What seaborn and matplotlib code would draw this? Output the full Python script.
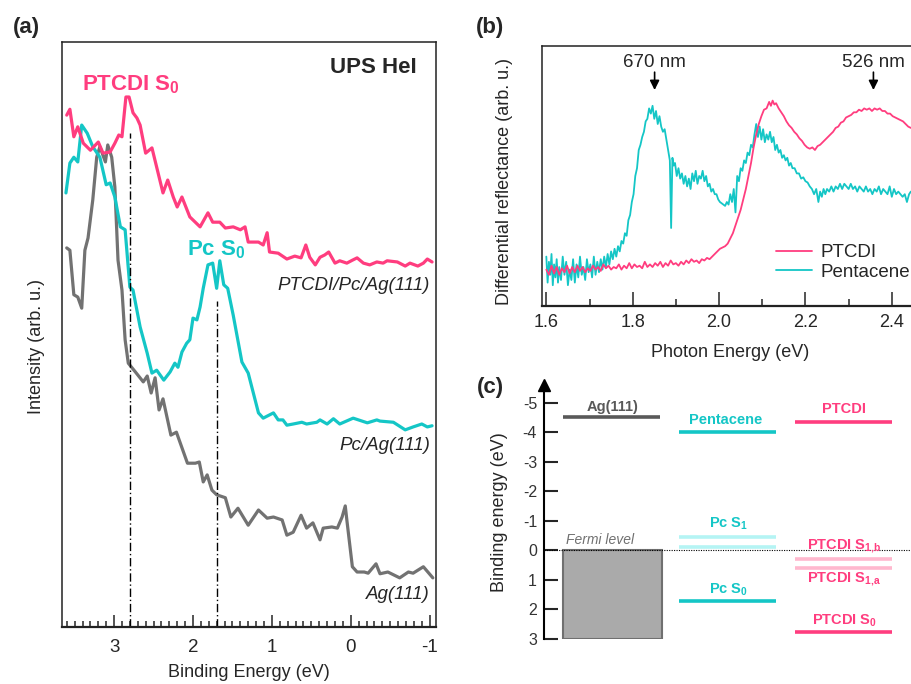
import numpy as np
import pandas as pd
import matplotlib
matplotlib.use('Agg')
import matplotlib.pyplot as plt
import seaborn as sns
from matplotlib.ticker import MultipleLocator, NullLocator, FormatStrFormatter
from matplotlib.patches import Rectangle

# ---- (a) UPS HeI spectra: binding energy (eV) / intensity (arb. u.)
be_ptcdi = [3.60, 3.56, 3.51, 3.46, 3.39, 3.30, 3.20, 3.14, 3.05, 2.99, 2.94, 2.90, 2.85, 2.81,
            2.76, 2.71, 2.67, 2.60, 2.52, 2.46, 2.38, 2.32, 2.25, 2.20, 2.14, 2.04, 1.91, 1.81,
            1.75, 1.66, 1.59, 1.49, 1.40, 1.34, 1.30, 1.17, 1.11, 1.06, 1.03, 0.92, 0.81, 0.71,
            0.63, 0.57, 0.52, 0.45, 0.39, 0.33, 0.28, 0.20, 0.14, 0.05, -0.02, -0.08, -0.16,
            -0.24, -0.33, -0.41, -0.46, -0.59, -0.69, -0.75, -0.85, -0.92, -0.97, -1.03]
int_ptcdi = [8.75, 8.85, 8.38, 8.55, 8.27, 8.15, 8.29, 8.10, 8.12, 8.27, 8.41, 8.38, 9.06, 9.06,
             8.79, 8.70, 8.58, 8.10, 8.19, 7.86, 7.42, 7.64, 7.35, 7.18, 7.35, 7.01, 6.84, 7.08,
             6.92, 6.92, 6.82, 6.84, 6.79, 6.84, 6.58, 6.58, 6.53, 6.74, 6.41, 6.39, 6.29, 6.34,
             6.31, 6.53, 6.32, 6.19, 6.32, 6.36, 6.41, 6.22, 6.26, 6.22, 6.27, 6.31, 6.22,
             6.19, 6.24, 6.22, 6.26, 6.24, 6.17, 6.22, 6.17, 6.22, 6.29, 6.24]

be_pc = [3.61, 3.56, 3.51, 3.46, 3.41, 3.34, 3.27, 3.18, 3.10, 3.05, 2.99, 2.92, 2.86, 2.80,
         2.76, 2.67, 2.58, 2.52, 2.46, 2.37, 2.29, 2.23, 2.19, 2.14, 2.08, 2.04, 2.00, 1.95,
         1.91, 1.87, 1.81, 1.75, 1.70, 1.66, 1.61, 1.56, 1.49, 1.38, 1.30, 1.17, 1.11, 0.98,
         0.92, 0.86, 0.81, 0.73, 0.62, 0.56, 0.43, 0.39, 0.30, 0.22, 0.14, -0.03, -0.21,
         -0.33, -0.37, -0.54, -0.69, -0.79, -0.90, -0.97, -1.03]
int_pc = [7.42, 7.93, 8.03, 7.95, 8.58, 8.44, 8.21, 8.03, 7.56, 7.59, 7.35, 6.84, 6.79, 5.81,
          5.76, 5.13, 4.68, 4.34, 4.39, 4.22, 4.36, 4.51, 4.44, 4.70, 4.85, 4.91, 5.28, 5.25,
          5.47, 5.79, 6.19, 6.22, 5.79, 6.26, 5.85, 5.79, 5.33, 4.53, 4.34, 3.66, 3.57, 3.66,
          3.54, 3.54, 3.45, 3.47, 3.50, 3.47, 3.50, 3.54, 3.47, 3.56, 3.47, 3.57, 3.49,
          3.54, 3.52, 3.50, 3.37, 3.42, 3.47, 3.42, 3.44]

be_ag = [3.60, 3.56, 3.51, 3.46, 3.41, 3.37, 3.33, 3.27, 3.22, 3.18, 3.11, 3.08, 3.03, 2.99,
         2.95, 2.90, 2.86, 2.82, 2.73, 2.63, 2.58, 2.53, 2.48, 2.43, 2.38, 2.28, 2.21, 2.07,
         1.97, 1.92, 1.87, 1.82, 1.76, 1.70, 1.59, 1.52, 1.43, 1.30, 1.17, 1.06, 0.98, 0.87,
         0.81, 0.73, 0.63, 0.56, 0.48, 0.39, 0.35, 0.24, 0.17, 0.11, 0.07, 0.05, -0.02,
         -0.08, -0.17, -0.22, -0.32, -0.37, -0.47, -0.62, -0.73, -0.79, -0.92, -1.04]
int_ag = [6.48, 6.44, 5.68, 5.64, 5.45, 6.44, 6.65, 7.30, 8.03, 8.21, 7.95, 8.24, 8.03, 7.52,
          6.27, 5.76, 4.91, 4.51, 4.36, 4.19, 4.29, 4.00, 4.26, 3.71, 3.90, 3.28, 3.33, 2.80,
          2.80, 2.82, 2.48, 2.60, 2.34, 2.26, 2.21, 1.88, 2.03, 1.74, 2.00, 1.86, 1.88, 1.83,
          1.57, 1.62, 1.91, 1.69, 1.78, 1.49, 1.69, 1.71, 1.69, 1.88, 2.07, 1.83, 1.03,
          0.94, 0.94, 0.92, 1.08, 0.91, 0.94, 0.84, 0.94, 0.92, 1.03, 0.84]

peak_be = [2.8, 1.7]          # PTCDI S0, Pc S0
peak_top = [8.44, 5.57]

# ---- (b) differential reflectance: (photon energy eV, DR arb. u.)
pentacene_dr = [
    (1.600, 1.9), (1.603, 0.9), (1.606, 1.7), (1.609, 1.2), (1.612, 2.0), (1.615, 0.8),
    (1.618, 1.6), (1.621, 1.1), (1.624, 1.8), (1.627, 0.9), (1.630, 1.5), (1.634, 1.0),
    (1.638, 1.9), (1.642, 1.2), (1.646, 1.7), (1.650, 0.8), (1.654, 1.4), (1.658, 1.0),
    (1.662, 1.8), (1.666, 0.9), (1.670, 1.6), (1.674, 1.1), (1.678, 1.9), (1.682, 1.2),
    (1.686, 1.5), (1.690, 1.0), (1.694, 1.8), (1.698, 1.3), (1.702, 1.6), (1.706, 1.1),
    (1.710, 1.9), (1.714, 1.2), (1.718, 1.7), (1.722, 1.3), (1.726, 1.8), (1.730, 1.4),
    (1.734, 1.9), (1.738, 1.5), (1.742, 2.0), (1.746, 1.6), (1.750, 2.1), (1.754, 1.8),
    (1.758, 2.2), (1.762, 1.9), (1.766, 2.3), (1.770, 2.1), (1.774, 2.5), (1.778, 2.4),
    (1.782, 2.8), (1.786, 2.7), (1.790, 3.3), (1.794, 3.5), (1.798, 4.0), (1.802, 4.3),
    (1.806, 5.0), (1.810, 5.3), (1.814, 6.0), (1.818, 6.2), (1.822, 6.5), (1.826, 6.7),
    (1.830, 7.1), (1.834, 7.2), (1.838, 7.6), (1.842, 7.4), (1.846, 7.7), (1.850, 7.2),
    (1.854, 7.5), (1.858, 7.0), (1.862, 7.3), (1.866, 6.9), (1.870, 6.7), (1.874, 6.8),
    (1.878, 6.4), (1.882, 6.0), (1.886, 5.6), (1.889, 3.0), (1.892, 5.7), (1.895, 5.4),
    (1.898, 5.5), (1.902, 5.0), (1.906, 5.3), (1.910, 4.9), (1.914, 5.1), (1.918, 4.7),
    (1.922, 5.0), (1.926, 4.6), (1.930, 4.9), (1.934, 4.5), (1.938, 5.1), (1.942, 4.8),
    (1.946, 5.2), (1.950, 4.7), (1.954, 5.0), (1.958, 4.9), (1.962, 5.2), (1.966, 4.8),
    (1.970, 5.0), (1.974, 4.6), (1.978, 4.7), (1.982, 4.4), (1.986, 4.5), (1.990, 4.3),
    (1.994, 4.3), (1.998, 4.1), (2.002, 4.0), (2.006, 3.95), (2.010, 3.9), (2.014, 3.85),
    (2.018, 4.0), (2.022, 3.9), (2.026, 4.3), (2.030, 4.0), (2.034, 4.5), (2.038, 3.6),
    (2.042, 5.0), (2.046, 4.8), (2.050, 5.3), (2.054, 5.2), (2.058, 5.6), (2.062, 5.5),
    (2.066, 5.9), (2.070, 5.8), (2.074, 6.2), (2.078, 6.1), (2.082, 6.6), (2.086, 7.0),
    (2.090, 6.5), (2.094, 6.9), (2.098, 6.4), (2.102, 6.8), (2.106, 6.3), (2.110, 6.6),
    (2.114, 6.4), (2.118, 6.7), (2.122, 6.3), (2.126, 6.5), (2.130, 6.0), (2.134, 6.2),
    (2.138, 5.9), (2.142, 6.0), (2.146, 5.7), (2.150, 5.8), (2.154, 5.6), (2.158, 5.7),
    (2.162, 5.4), (2.166, 5.5), (2.170, 5.3), (2.175, 5.3), (2.180, 5.1), (2.185, 5.1),
    (2.190, 4.9), (2.195, 4.95), (2.200, 4.8), (2.205, 4.75), (2.210, 4.6), (2.215, 4.5),
    (2.220, 4.3), (2.225, 4.5), (2.230, 4.0), (2.234, 4.4), (2.238, 4.2), (2.242, 4.5),
    (2.246, 4.3), (2.250, 4.5), (2.255, 4.4), (2.260, 4.6), (2.265, 4.4), (2.270, 4.6),
    (2.275, 4.5), (2.280, 4.7), (2.285, 4.5), (2.290, 4.7), (2.295, 4.6), (2.300, 4.5),
    (2.305, 4.7), (2.310, 4.5), (2.315, 4.6), (2.320, 4.4), (2.325, 4.6), (2.330, 4.5),
    (2.335, 4.4), (2.340, 4.6), (2.345, 4.4), (2.350, 4.5), (2.355, 4.3), (2.360, 4.5),
    (2.365, 4.4), (2.370, 4.6), (2.375, 4.3), (2.380, 4.5), (2.385, 4.4), (2.390, 4.3),
    (2.395, 4.6), (2.400, 4.2), (2.405, 4.5), (2.410, 4.3), (2.415, 4.4), (2.420, 4.3),
    (2.425, 4.2), (2.430, 4.3), (2.435, 4.0), (2.440, 4.3), (2.444, 4.4)]

ptcdi_dr = [
    (1.600, 1.40), (1.606, 1.20), (1.612, 1.55), (1.618, 1.25), (1.624, 1.50), (1.630, 1.20),
    (1.636, 1.45), (1.642, 1.30), (1.648, 1.55), (1.654, 1.25), (1.660, 1.50), (1.666, 1.30),
    (1.672, 1.55), (1.678, 1.35), (1.684, 1.50), (1.690, 1.30), (1.696, 1.45), (1.702, 1.35),
    (1.708, 1.55), (1.714, 1.40), (1.720, 1.50), (1.726, 1.35), (1.732, 1.60), (1.738, 1.45),
    (1.744, 1.55), (1.750, 1.40), (1.756, 1.50), (1.762, 1.45), (1.768, 1.60), (1.774, 1.40),
    (1.780, 1.55), (1.786, 1.45), (1.792, 1.65), (1.798, 1.45), (1.804, 1.60), (1.810, 1.50),
    (1.816, 1.55), (1.822, 1.45), (1.828, 1.70), (1.834, 1.50), (1.840, 1.60), (1.846, 1.50),
    (1.852, 1.65), (1.858, 1.55), (1.864, 1.70), (1.870, 1.50), (1.876, 1.65), (1.882, 1.55),
    (1.888, 1.75), (1.894, 1.60), (1.900, 1.65), (1.906, 1.55), (1.912, 1.70), (1.918, 1.60),
    (1.924, 1.75), (1.930, 1.65), (1.936, 1.80), (1.942, 1.70), (1.948, 1.75), (1.954, 1.65),
    (1.960, 1.80), (1.966, 1.75), (1.972, 1.85), (1.978, 1.80), (1.984, 1.90), (1.990, 2.00),
    (1.996, 2.10), (2.002, 2.20), (2.008, 2.25), (2.014, 2.30), (2.020, 2.40), (2.026, 2.60),
    (2.032, 2.80), (2.038, 3.10), (2.044, 3.40), (2.050, 3.70), (2.056, 4.10), (2.062, 4.50),
    (2.068, 5.00), (2.074, 5.50), (2.080, 6.10), (2.086, 6.60), (2.092, 7.00), (2.098, 7.30),
    (2.104, 7.55), (2.110, 7.60), (2.116, 7.85), (2.120, 7.70), (2.124, 7.90), (2.128, 7.75),
    (2.132, 7.80), (2.138, 7.60), (2.144, 7.45), (2.150, 7.30), (2.156, 7.10), (2.162, 6.95),
    (2.168, 6.85), (2.174, 6.70), (2.180, 6.60), (2.186, 6.45), (2.192, 6.35), (2.198, 6.20),
    (2.204, 6.10), (2.210, 6.05), (2.216, 6.10), (2.222, 6.00), (2.228, 6.15), (2.234, 6.20),
    (2.240, 6.30), (2.246, 6.40), (2.252, 6.50), (2.258, 6.60), (2.264, 6.70), (2.270, 6.85),
    (2.276, 6.90), (2.282, 7.05), (2.288, 7.10), (2.294, 7.25), (2.300, 7.30), (2.306, 7.35),
    (2.312, 7.45), (2.318, 7.45), (2.324, 7.55), (2.330, 7.50), (2.336, 7.60), (2.342, 7.55),
    (2.348, 7.60), (2.354, 7.50), (2.360, 7.60), (2.366, 7.55), (2.372, 7.60), (2.378, 7.50),
    (2.384, 7.50), (2.390, 7.40), (2.396, 7.40), (2.402, 7.30), (2.408, 7.25), (2.414, 7.20),
    (2.420, 7.15), (2.426, 7.10), (2.432, 7.00), (2.438, 6.90), (2.444, 6.85)]

arrow_e = [1240 / 670, 1240 / 526]
arrow_labels = ['670 nm', '526 nm']

# ---- (c) energy level diagram
columns = ['Ag(111)', 'Pentacene', 'PTCDI']
level_col = [0, 1, 2, 1, 1, 1, 2, 2, 2]
level_energy = [-4.5, -4.0, -4.35, -0.45, -0.1, 1.73, 0.3, 0.6, 2.75]
level_kind = ['metal', 'pc', 'ptcdi', 'pc_s1', 'pc_s1', 'pc', 'ptcdi_s1', 'ptcdi_s1', 'ptcdi']
state_labels = ['Pc S$_\\mathregular{1}$', 'Pc S$_\\mathregular{0}$',
                'PTCDI S$_\\mathregular{1{,}b}$', 'PTCDI S$_\\mathregular{1{,}a}$',
                'PTCDI S$_\\mathregular{0}$']
state_col = [1, 1, 2, 2, 2]
state_y = [-0.92, 1.32, -0.14, 0.98, 2.37]

pink = '#FF3D7F'
cyan = '#14C6C6'
gray = '#727272'
kind_color = {'metal': '#595959', 'pc': cyan, 'ptcdi': pink,
              'pc_s1': '#B5F4F4', 'ptcdi_s1': '#FFB8CE'}

sns.set_style('ticks')
plt.rcParams['font.family'] = ['Liberation Sans', 'DejaVu Sans']
plt.rcParams['mathtext.fontset'] = 'custom'
plt.rcParams['mathtext.rm'] = 'Liberation Sans'
plt.rcParams['axes.unicode_minus'] = False

fig = plt.figure(figsize=(9.11, 6.84), dpi=100)
W, H = 911, 684


def px_axes(l, t, r, b):
    return fig.add_axes([l / W, 1 - b / H, (r - l) / W, (b - t) / H])


# ================= (a)
ax = px_axes(62, 42, 436, 627)
df_a = pd.concat([
    pd.DataFrame({'BE': be_ag, 'I': int_ag, 'sample': 'Ag(111)'}),
    pd.DataFrame({'BE': be_pc, 'I': int_pc, 'sample': 'Pc/Ag(111)'}),
    pd.DataFrame({'BE': be_ptcdi, 'I': int_ptcdi, 'sample': 'PTCDI/Pc/Ag(111)'}),
])
sns.lineplot(data=df_a, x='BE', y='I', hue='sample',
             palette={'Ag(111)': gray, 'Pc/Ag(111)': cyan, 'PTCDI/Pc/Ag(111)': pink},
             estimator=None, sort=False, lw=2.3, legend=False, ax=ax)
ax.vlines(peak_be, 0, peak_top, colors='black', linestyles=(0, (6, 2, 1, 2)), lw=1.0)
ax.set_xlim(3.66, -1.08)
ax.set_ylim(0, 10)
ax.xaxis.set_major_locator(MultipleLocator(1))
ax.xaxis.set_minor_locator(MultipleLocator(0.1))
ax.yaxis.set_major_locator(NullLocator())
ax.tick_params(axis='x', which='major', direction='in', length=9, width=1.1, labelsize=13.5, pad=9)
ax.tick_params(axis='x', which='minor', direction='in', length=4.5, width=1.1)
for s in ax.spines.values():
    s.set_linewidth(1.1)
    s.set_color('#222222')
ax.spines['bottom'].set_linewidth(1.6)
ax.set_xlabel('Binding Energy (eV)', fontsize=13)
ax.set_ylabel('Intensity (arb. u.)', fontsize=13)
ax.xaxis.set_label_coords(0.5, -0.064)
ax.yaxis.set_label_coords(-0.045, 0.48)
ax.text(0.947, 0.957, 'UPS HeI', transform=ax.transAxes, ha='right', va='center',
        fontsize=16, fontweight='bold')
ax.text(2.78, 9.27, 'PTCDI S$_\\mathregular{0}$', ha='center', va='center',
        fontsize=16, fontweight='bold', color=pink)
ax.text(1.70, 6.45, 'Pc S$_\\mathregular{0}$', ha='center', va='center',
        fontsize=16, fontweight='bold', color=cyan)
for lab, yv in [('PTCDI/Pc/Ag(111)', 5.83), ('Pc/Ag(111)', 3.11), ('Ag(111)', 0.55)]:
    ax.text(0.984, yv, lab, transform=ax.get_yaxis_transform(), ha='right', va='center',
            fontsize=13.5, style='italic')
fig.text(13 / W, 1 - 28 / H, '(a)', fontsize=16, fontweight='bold', va='center')

# ================= (b)
bx = px_axes(542, 46, 935, 306)
df_pc = pd.DataFrame(pentacene_dr, columns=['E', 'DR'])
df_pt = pd.DataFrame(ptcdi_dr, columns=['E', 'DR'])
sns.lineplot(data=df_pc, x='E', y='DR', color=cyan, lw=1.3, label='Pentacene', ax=bx)
sns.lineplot(data=df_pt, x='E', y='DR', color=pink, lw=1.3, label='PTCDI', ax=bx)
bx.set_xlim(1.59, 2.5)
bx.set_ylim(0, 10)
bx.xaxis.set_major_locator(MultipleLocator(0.2))
bx.xaxis.set_minor_locator(MultipleLocator(0.1))
bx.xaxis.set_major_formatter(FormatStrFormatter('%.1f'))
bx.yaxis.set_major_locator(NullLocator())
bx.tick_params(axis='x', which='major', direction='in', length=10, width=1.1, labelsize=13, pad=6)
bx.tick_params(axis='x', which='minor', direction='in', length=5, width=1.1)
for s in bx.spines.values():
    s.set_linewidth(1.1)
    s.set_color('#222222')
bx.spines['bottom'].set_linewidth(1.6)
bx.set_xlabel('Photon Energy (eV)', fontsize=13)
bx.set_ylabel('Differential reflectance (arb. u.)', fontsize=13)
bx.xaxis.set_label_coords(0.478, -0.145)
bx.yaxis.set_label_coords(-0.074, 0.48)
for e, lab in zip(arrow_e, arrow_labels):
    bx.annotate('', xy=(e, 8.2), xytext=(e, 9.1),
                arrowprops=dict(arrowstyle='-|>', color='black', lw=1.2, mutation_scale=14))
    bx.text(e, 9.35, lab, ha='center', va='center', fontsize=13.5)
h, l = bx.get_legend_handles_labels()
bx.legend([h[1], h[0]], [l[1], l[0]], loc='lower left', bbox_to_anchor=(776 / W, 1 - 281 / H),
          bbox_transform=fig.transFigure, frameon=False, fontsize=13.5, borderpad=0,
          borderaxespad=0, handlelength=1.9, handletextpad=0.5, labelspacing=0.15)
fig.text(476 / W, 1 - 28 / H, '(b)', fontsize=16, fontweight='bold', va='center')

# ================= (c)
cx = px_axes(544, 385, 911, 639)
cx.set_xlim(-0.578, 2.586)
cx.set_ylim(3, -5.6)
cx.add_patch(Rectangle((-0.41, 0), 0.85, 3, facecolor='#AAAAAA', edgecolor='#707070', lw=1.5))
cx.axhline(0, color='black', ls=(0, (1, 1.2)), lw=0.8)
cx.hlines(level_energy, np.array(level_col) - 0.418, np.array(level_col) + 0.418,
          colors=[kind_color[k] for k in level_kind], lw=2.6)
cx.text(0.01, -4.85, columns[0], ha='center', va='center', fontsize=10.5,
        fontweight='bold', color='#595959')
cx.text(0.99, -4.41, columns[1], ha='center', va='center', fontsize=10.5,
        fontweight='bold', color=cyan)
cx.text(2.01, -4.78, columns[2], ha='center', va='center', fontsize=10.5,
        fontweight='bold', color=pink)
for lab, c, yv in zip(state_labels, state_col, state_y):
    cx.text(c + 0.01, yv, lab, ha='center', va='center', fontsize=10.5, fontweight='bold',
            color=cyan if c == 1 else pink)
cx.text(-0.095, -0.34, 'Fermi level', ha='center', va='center', fontsize=10,
        style='italic', color='#707070')
cx.xaxis.set_major_locator(NullLocator())
cx.set_yticks(range(-5, 4))
cx.tick_params(axis='y', direction='in', length=10, width=1.5, labelsize=11.5, pad=5,
               labelcolor='#333333')
for side in ['top', 'right', 'bottom']:
    cx.spines[side].set_visible(False)
cx.spines['left'].set_linewidth(1.5)
cx.spines['left'].set_color('black')
cx.plot([0], [1], marker='^', color='black', ms=8, transform=cx.transAxes, clip_on=False)
cx.set_ylabel('Binding energy (eV)', fontsize=13)
cx.yaxis.set_label_coords(-0.098, 0.5)
fig.text(477 / W, 1 - 387 / H, '(c)', fontsize=16, fontweight='bold', va='center')

fig.savefig('out.png', dpi=100)
